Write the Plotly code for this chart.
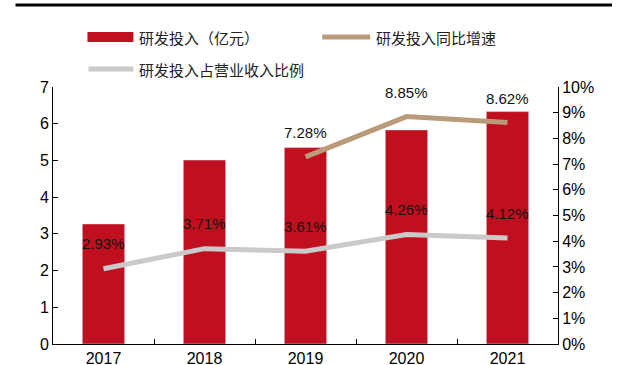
import plotly.graph_objects as go

years = ["2017", "2018", "2019", "2020", "2021"]
rd_invest = [3.27, 5.01, 5.35, 5.83, 6.33]          # 研发投入（亿元）
rd_growth = [None, None, 7.28, 8.85, 8.62]          # 研发投入同比增速 (%)
rd_ratio = [2.93, 3.71, 3.61, 4.26, 4.12]           # 研发投入占营业收入比例 (%)

name_bar = "研发投入（亿元）"
name_growth = "研发投入同比增速"
name_ratio = "研发投入占营业收入比例"

RED = "#C00F1E"
BROWN = "#B99B7A"
GREY = "#CACACA"
NUM_FONT = "Liberation Sans, Arial, sans-serif"
CJK_FONT = "Noto Sans CJK SC, sans-serif"

fig = go.Figure()
fig.add_trace(go.Bar(x=years, y=rd_invest, name=name_bar, marker_color=RED,
                     width=0.42, yaxis="y", showlegend=False))
fig.add_trace(go.Scatter(x=years, y=[None if v is None else v / 100 for v in rd_growth],
                         name=name_growth, mode="lines", line=dict(color=BROWN, width=5),
                         yaxis="y2", showlegend=False))
fig.add_trace(go.Scatter(x=years, y=[v / 100 for v in rd_ratio], name=name_ratio,
                         mode="lines", line=dict(color=GREY, width=5),
                         yaxis="y2", showlegend=False))

annotations = []
for i, g in enumerate(rd_growth):
    if g is not None:
        annotations.append(dict(x=i, y=g / 100, xref="x", yref="y2", text=f"{g:.2f}%",
                                showarrow=False, yshift=24,
                                font=dict(family=NUM_FONT, size=15, color="#111")))
for i, r in enumerate(rd_ratio):
    annotations.append(dict(x=i, y=r / 100, xref="x", yref="y2", text=f"{r:.2f}%",
                            showarrow=False, yshift=25,
                            font=dict(family=NUM_FONT, size=15, color="#111")))

# custom legend (paper coordinates)
L, W, T, H = 52.5, 505.5, 87.0, 257.0
def px(x):
    return (x - L) / W
def py(y):
    return (T + H - y) / H

shapes = [
    dict(type="line", xref="paper", yref="paper", x0=px(15), x1=px(612), y0=py(5), y1=py(5),
         line=dict(color="black", width=3)),
    dict(type="rect", xref="paper", yref="paper", x0=px(87), x1=px(133), y0=py(42), y1=py(32),
         fillcolor=RED, line=dict(width=0)),
    dict(type="line", xref="paper", yref="paper", x0=px(322), x1=px(370), y0=py(37), y1=py(37),
         line=dict(color=BROWN, width=5)),
    dict(type="line", xref="paper", yref="paper", x0=px(88), x1=px(133), y0=py(69), y1=py(69),
         line=dict(color=GREY, width=5)),
]
for txt, x, y in [(name_bar, 137, 37), (name_growth, 374, 37), (name_ratio, 137, 69)]:
    annotations.append(dict(x=px(x), y=py(y), xref="paper", yref="paper", text=txt,
                            showarrow=False, xanchor="left", yanchor="middle",
                            font=dict(family=CJK_FONT, size=15, color="#222")))

fig.update_layout(
    width=625, height=365,
    margin=dict(l=L, r=625 - (L + W), t=T, b=365 - (T + H), pad=0, autoexpand=False),
    paper_bgcolor="white", plot_bgcolor="white",
    bargap=0.58,
    shapes=shapes, annotations=annotations,
    xaxis=dict(type="category", range=[-0.5, len(years) - 0.5], autorange=False,
               automargin=False,
               showline=True, linecolor="black", linewidth=1,
               ticks="inside", ticklen=5, tickcolor="black", tickson="boundaries",
               tickangle=0,
               tickfont=dict(family=NUM_FONT, size=16, color="black"),
               showgrid=False, zeroline=False),
    yaxis=dict(range=[0, 7], dtick=1, showline=True, linecolor="black", linewidth=1,
               automargin=False,
               ticks="inside", ticklen=5, tickcolor="black",
               tickfont=dict(family=NUM_FONT, size=16, color="black"),
               showgrid=False, zeroline=False),
    yaxis2=dict(range=[0, 0.10], dtick=0.01, tickformat=".0%", overlaying="y", side="right",
                automargin=False,
                showline=True, linecolor="black", linewidth=1,
                ticks="inside", ticklen=5, tickcolor="black",
                tickfont=dict(family=NUM_FONT, size=16, color="black"),
                showgrid=False, zeroline=False),
)

fig.write_html("out.html", config={"displayModeBar": False},
               post_script="document.body.style.margin='0';")
